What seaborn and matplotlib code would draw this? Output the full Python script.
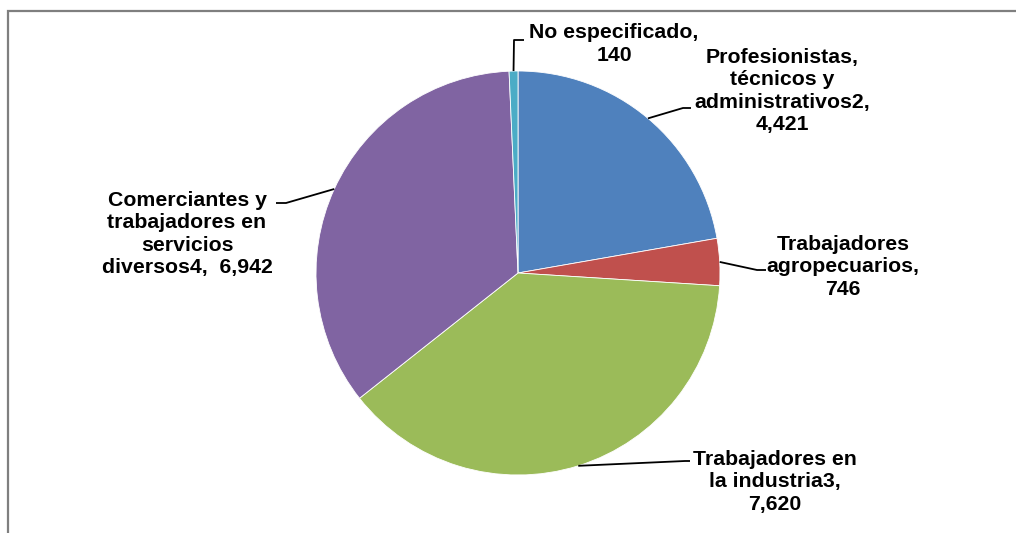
import numpy as np
import seaborn as sns
import matplotlib.pyplot as plt
from matplotlib.patches import Rectangle

sns.set_style("white")
plt.rcParams['font.family'] = ['Liberation Sans', 'DejaVu Sans']

categorias = ['Profesionistas,\ntécnicos y\nadministrativos2,',
              'Trabajadores\nagropecuarios,',
              'Trabajadores en\nla industria3,',
              'Comerciantes y\ntrabajadores en\nservicios\ndiversos4, ',
              'No especificado,']
valores = [4421, 746, 7620, 6942, 140]
colores = ['#4F81BD', '#C0504D', '#9BBB59', '#8064A2', '#4BACC6']

W, H = 1016, 533
fig = plt.figure(figsize=(W / 100, H / 100), dpi=100)
ax = fig.add_axes([0, 0, 1, 1])

# marco del área del gráfico (cortado a la derecha y abajo)
fig.patches.append(Rectangle((8 / W, -0.1), 1.2, (H - 11) / H + 0.1,
                             transform=fig.transFigure, fill=False,
                             edgecolor='#7F7F7F', linewidth=1.6))

cx, cy, r = 518, H - 273, 202
wedges, _ = ax.pie(valores, colors=colores, startangle=90, counterclock=False,
                   center=(cx, cy), radius=r, frame=True,
                   wedgeprops=dict(edgecolor='white', linewidth=0.6))
ax.set_xlim(0, W)
ax.set_ylim(0, H)
ax.set_aspect('equal')
ax.axis('off')

# posición de las etiquetas (centro del texto) y codos de las líneas guía
etiquetas = [(782, 91), (843, 267), (775, 482), (187, 234), (614, 44)]
codos = [[(683, 108), (691, 108)],
         [(757, 270), (766, 270)],
         [(685, 461), (690, 461)],
         [(286, 203), (276, 203)],
         [(514, 40), (524, 40)]]

for w, cat, val, pos, codo in zip(wedges, categorias, valores, etiquetas, codos):
    ang = np.deg2rad((w.theta1 + w.theta2) / 2)
    x0, y0 = cx + r * np.cos(ang), cy + r * np.sin(ang)
    xs = [x0] + [p[0] for p in codo]
    ys = [y0] + [H - p[1] for p in codo]
    ax.plot(xs, ys, color='black', linewidth=1.3, solid_capstyle='butt')
    sep = ' ' if cat.endswith(' ') else '\n'
    texto = cat + sep + f'{val:,}'
    ax.text(pos[0], H - pos[1], texto, ha='center', va='center',
            fontsize=15.3, fontweight='bold', linespacing=1.22, color='black')

fig.savefig('out.png', dpi=100, facecolor='white')
